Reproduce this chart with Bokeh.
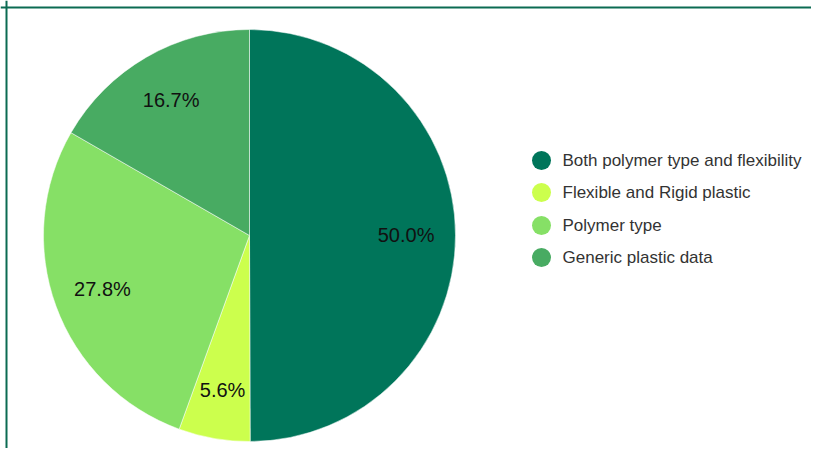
import numpy as np
from bokeh.plotting import figure
from bokeh.models import ColumnDataSource, Range1d, Span
from bokeh.core.properties import value
from bokeh.embed import file_html
from bokeh.resources import INLINE

categories = ["Both polymer type and flexibility", "Flexible and Rigid plastic",
              "Polymer type", "Generic plastic data"]
shares = [50.0, 5.6, 27.8, 16.7]
colors = ["#00755a", "#ccff4d", "#86e066", "#48ab62"]

W, H = 811, 448
p = figure(width=W, height=H, output_backend="svg", toolbar_location=None,
           x_range=Range1d(0, W), y_range=Range1d(0, H), min_border=0)
p.axis.visible = False
p.grid.visible = False
p.outline_line_color = None
p.background_fill_color = "white"
p.add_layout(Span(location=6, dimension="height", line_color="#0b6b52", line_width=2))
p.add_layout(Span(location=H - 7, dimension="width", line_color="#0b6b52", line_width=2))

cx, cy, r = 249, H - 235, 206
vals = np.array(shares)
frac = vals / vals.sum()
ang = frac * 2 * np.pi
start = np.pi / 2 - np.concatenate([[0], np.cumsum(ang)[:-1]])
end = start - ang
mid = (start + end) / 2

src = ColumnDataSource(dict(start=start, end=end, color=colors, cat=categories,
                            lx=cx + 0.76 * r * np.cos(mid), ly=cy + 0.76 * r * np.sin(mid),
                            lab=["%.1f%%" % v for v in shares]))
p.wedge(x=cx, y=cy, radius=r, start_angle="start", end_angle="end", direction="clock",
        fill_color="color", line_color="white", line_width=0.5, source=src)
p.text(x="lx", y="ly", text="lab", source=src, text_align="center", text_baseline="middle",
       text_font=value("Liberation Sans"), text_font_size="20px", text_color="#111111")

# legend
leg_y = H - np.array([160, 192, 225, 257])
leg = ColumnDataSource(dict(y=leg_y, color=colors, cat=categories))
p.scatter(x=541, y="y", size=19, fill_color="color", line_color=None, source=leg)
p.text(x=562, y="y", text="cat", source=leg, text_baseline="middle",
       text_font=value("Liberation Sans"), text_font_size="17px", text_color="#333333")

open("out.html", "w").write(file_html(p, INLINE))
